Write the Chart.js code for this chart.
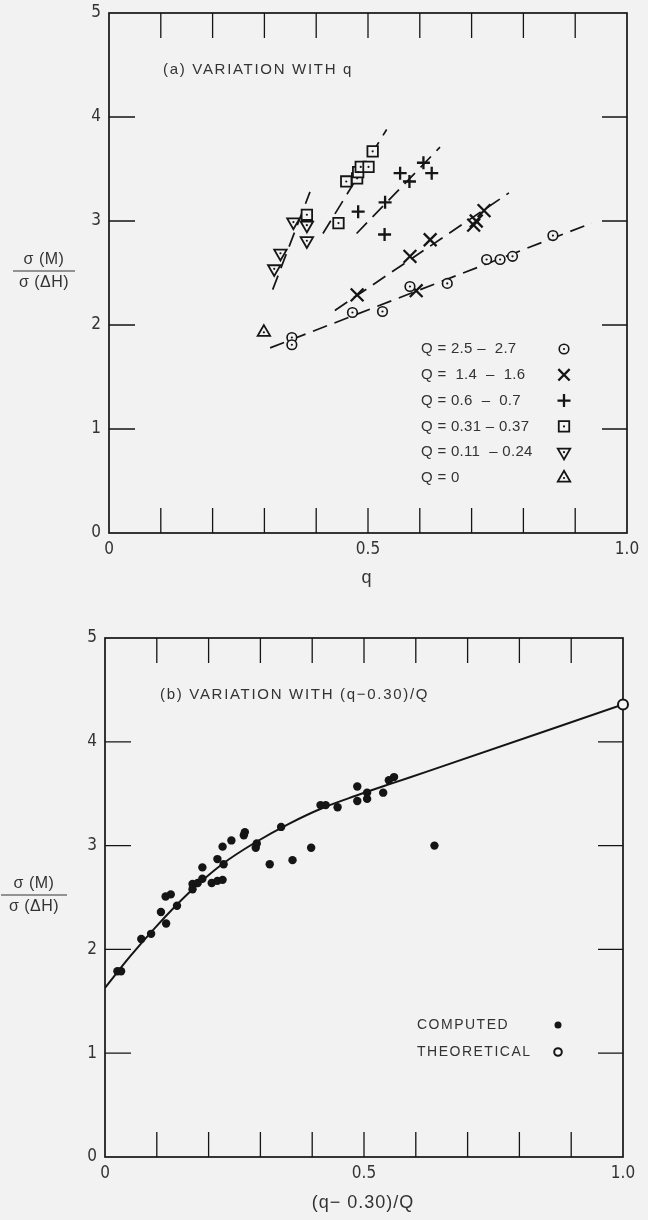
<!DOCTYPE html>
<html lang="en">
<head>
<meta charset="UTF-8">
<title>σ(M)/σ(ΔH) — variation with q and (q−0.30)/Q</title>
<script src="https://cdn.jsdelivr.net/npm/chart.js"></script>
<style>
  html, body { margin: 0; padding: 0; background: #f2f2f2; }
  body { width: 648px; height: 1220px; position: relative; overflow: hidden; }
  canvas { position: absolute; left: 0; }
  #panelA { top: 0; }
  #panelB { top: 610px; }
</style>
</head>
<body>
<canvas id="panelA" width="648" height="600"></canvas>
<canvas id="panelB" width="648" height="610"></canvas>

<script>
// ---- panel (a): sigma ratio against q, grouped by Q ----
const qQ25 = [0.353, 0.353, 0.470, 0.528, 0.581, 0.653, 0.729, 0.755, 0.779, 0.857];
const vQ25 = [1.88, 1.81, 2.12, 2.13, 2.37, 2.40, 2.63, 2.63, 2.66, 2.86];
const qQ15 = [0.479, 0.593, 0.581, 0.620, 0.704, 0.709, 0.724];
const vQ15 = [2.29, 2.33, 2.66, 2.82, 2.96, 3.00, 3.10];
const qQ06 = [0.481, 0.532, 0.533, 0.562, 0.580, 0.607, 0.623];
const vQ06 = [3.09, 2.87, 3.18, 3.46, 3.38, 3.56, 3.46];
const qQ03 = [0.382, 0.443, 0.458, 0.479, 0.481, 0.486, 0.501, 0.509];
const vQ03 = [3.06, 2.98, 3.38, 3.41, 3.47, 3.52, 3.52, 3.67];
const qQ01 = [0.319, 0.331, 0.356, 0.382, 0.382];
const vQ01 = [2.54, 2.69, 2.99, 2.96, 2.81];
const qQ0 = [0.299];
const vQ0 = [1.93];

// dashed fit lines, [start, end]
const fitQ25q = [0.311, 0.932], fitQ25v = [1.78, 2.98];
const fitQ15q = [0.436, 0.772], fitQ15v = [2.14, 3.27];
const fitQ06q = [0.478, 0.639], fitQ06v = [2.88, 3.71];
const fitQ03q = [0.413, 0.536], fitQ03v = [2.88, 3.88];
const fitQ01q = [0.316, 0.388], fitQ01v = [2.34, 3.28];

// ---- panel (b): sigma ratio against (q-0.30)/Q ----
const compX = [0.024, 0.031, 0.070, 0.089, 0.108, 0.118, 0.117, 0.127, 0.139, 0.169,
               0.169, 0.179, 0.188, 0.188, 0.206, 0.217, 0.227, 0.217, 0.229, 0.227,
               0.244, 0.268, 0.270, 0.291, 0.293, 0.318, 0.340, 0.362, 0.398, 0.416,
               0.426, 0.449, 0.487, 0.487, 0.506, 0.506, 0.537, 0.548, 0.558, 0.636];
const compY = [1.79, 1.79, 2.10, 2.15, 2.36, 2.25, 2.51, 2.53, 2.42, 2.58,
               2.63, 2.64, 2.68, 2.79, 2.64, 2.66, 2.67, 2.87, 2.82, 2.99,
               3.05, 3.10, 3.13, 2.98, 3.02, 2.82, 3.18, 2.86, 2.98, 3.39,
               3.39, 3.37, 3.57, 3.43, 3.51, 3.45, 3.51, 3.63, 3.66, 3.00];
const theoX = [1.0];
const theoY = [4.36];
const curveX = [0, 0.048, 0.097, 0.161, 0.226, 0.290, 0.355, 0.419, 0.484, 0.548, 0.620, 1.0];
const curveY = [1.63, 1.93, 2.21, 2.54, 2.82, 3.03, 3.21, 3.36, 3.48, 3.59, 3.71, 4.36];

// axis ticks
const yTicks = [0, 1, 2, 3, 4, 5];
const xLabelled = [0, 0.5, 1.0];
const xLabelText = ['0', '0.5', '1.0'];
const xMinor = [0.1, 0.2, 0.3, 0.4, 0.5, 0.6, 0.7, 0.8, 0.9];
const yMinor = [1, 2, 3, 4];

const legendA = ['Q = 2.5 –  2.7', 'Q =  1.4  –  1.6', 'Q = 0.6  –  0.7',
                 'Q = 0.31 – 0.37', 'Q = 0.11  – 0.24', 'Q = 0'];
const legendB = ['COMPUTED', 'THEORETICAL'];

const INK = '#151515';
const PAPER = '#f2f2f2';
const TEXT = '#333';
const NUM_FONT = '"Liberation Sans Narrow", "DejaVu Sans Condensed", sans-serif';
const TXT_FONT = '"Liberation Sans", Arial, sans-serif';

const pts = (xs, ys) => xs.map((x, i) => ({ x, y: ys[i] }));

// marker looks: outline shape, and whether it carries a centre dot
const M_CIRCLE = { pointStyle: 'circle', radius: 4.8, borderWidth: 1.6, fill: PAPER, dot: true };
const M_SQUARE = { pointStyle: 'rect', radius: 7.4, borderWidth: 1.8, fill: PAPER, dot: true };
const M_TRI_DN = { pointStyle: 'triangle', radius: 7.2, rotation: 180, borderWidth: 1.8, fill: PAPER, dot: true };
const M_TRI_UP = { pointStyle: 'triangle', radius: 7.2, rotation: 0, borderWidth: 1.8, fill: PAPER, dot: true };
const M_X = { pointStyle: 'crossRot', radius: 9, borderWidth: 2.3, fill: INK };
const M_PLUS = { pointStyle: 'cross', radius: 6.5, borderWidth: 2.3, fill: INK };

function fitLine(qs, vs) {
  return { data: pts(qs, vs), showLine: true, pointRadius: 0, borderColor: INK,
           borderWidth: 1.7, borderDash: [15, 8] };
}
// centre dots come first so they are painted over the outline
function marks(qs, vs, m) {
  const out = [];
  if (m.dot) {
    out.push({ data: pts(qs, vs), pointStyle: 'circle', pointRadius: 1.1,
               backgroundColor: INK, borderWidth: 0 });
  }
  out.push({ data: pts(qs, vs), pointStyle: m.pointStyle, pointRadius: m.radius,
             pointRotation: m.rotation || 0, borderColor: INK, backgroundColor: m.fill,
             borderWidth: m.borderWidth });
  return out;
}
function drawMark(ctx, m, x, y) {
  ctx.save();
  ctx.fillStyle = m.fill; ctx.strokeStyle = INK; ctx.lineWidth = m.borderWidth;
  Chart.helpers.drawPoint(ctx, m, x, y);
  if (m.dot) {
    ctx.fillStyle = INK;
    Chart.helpers.drawPoint(ctx, { pointStyle: 'circle', radius: 1.1, borderWidth: 0 }, x, y);
  }
  ctx.restore();
}

// frame with inward ticks, tick labels, titles and in-plot legend
const framePlugin = {
  id: 'frame',
  beforeDatasetsDraw(chart, args, o) {
    const { ctx, chartArea: a, scales: { x, y } } = chart;
    ctx.save();
    ctx.strokeStyle = INK;
    ctx.lineWidth = 1.3;
    ctx.beginPath();
    xMinor.forEach(v => {
      const px = x.getPixelForValue(v);
      ctx.moveTo(px, a.top); ctx.lineTo(px, a.top + 25);
      ctx.moveTo(px, a.bottom); ctx.lineTo(px, a.bottom - 25);
    });
    yMinor.forEach(v => {
      const py = y.getPixelForValue(v);
      ctx.moveTo(a.left, py); ctx.lineTo(a.left + 26, py);
      ctx.moveTo(a.right, py); ctx.lineTo(a.right - 25, py);
    });
    ctx.stroke();
    ctx.lineWidth = 1.7;
    ctx.strokeRect(a.left, a.top, a.right - a.left, a.bottom - a.top);

    // tick labels
    ctx.fillStyle = TEXT;
    ctx.font = '17px ' + NUM_FONT;
    ctx.textAlign = 'right'; ctx.textBaseline = 'middle';
    yTicks.forEach(v => ctx.fillText(String(v), a.left - 8, y.getPixelForValue(v)));
    ctx.textAlign = 'center'; ctx.textBaseline = 'top';
    xLabelled.forEach((v, i) => ctx.fillText(xLabelText[i], x.getPixelForValue(v), a.bottom + 8));
    ctx.restore();
  },
  afterDraw(chart, args, o) {
    const { ctx } = chart;
    ctx.save();
    ctx.fillStyle = TEXT;
    ctx.textBaseline = 'middle';

    // panel title inside the frame
    ctx.font = '15px ' + TXT_FONT;
    ctx.letterSpacing = '1.7px';
    ctx.textAlign = 'left';
    ctx.fillText(o.title, o.titleX, o.titleY);

    // legend rows: text left, symbol right
    ctx.font = o.legendFont + ' ' + TXT_FONT;
    ctx.letterSpacing = o.legendSpacing;
    o.legend.forEach((t, i) => {
      const yy = o.legendY + i * o.legendStep;
      ctx.fillStyle = TEXT;
      ctx.fillText(t, o.legendX, yy);
      drawMark(ctx, o.legendMarks[i], o.symbolX, yy);
    });

    // x axis title
    ctx.fillStyle = TEXT;
    ctx.letterSpacing = '1px';
    ctx.font = '18px ' + TXT_FONT;
    ctx.textAlign = 'center';
    ctx.fillText(o.xTitle, o.xTitleX, o.xTitleY);

    // y axis title as a fraction
    ctx.letterSpacing = '0.5px';
    ctx.font = '16px ' + TXT_FONT;
    ctx.fillText('σ (M)', o.fracX, o.fracY - 11);
    ctx.fillText('σ (ΔH)', o.fracX, o.fracY + 12);
    ctx.strokeStyle = TEXT; ctx.lineWidth = 1.2;
    ctx.beginPath();
    ctx.moveTo(o.fracX - o.fracW / 2, o.fracY); ctx.lineTo(o.fracX + o.fracW / 2, o.fracY);
    ctx.stroke();
    ctx.restore();
  }
};

function baseOptions(padding, frame) {
  return {
    responsive: false,
    animation: false,
    events: [],
    layout: { padding },
    scales: {
      x: { type: 'linear', min: 0, max: 1, display: false },
      y: { type: 'linear', min: 0, max: 5, display: false }
    },
    plugins: { legend: { display: false }, tooltip: { enabled: false }, frame }
  };
}

// earlier datasets end up on top, so the markers precede the dashed fits
new Chart(document.getElementById('panelA'), {
  type: 'scatter',
  data: {
    datasets: [
      ...marks(qQ25, vQ25, M_CIRCLE),
      ...marks(qQ15, vQ15, M_X),
      ...marks(qQ06, vQ06, M_PLUS),
      ...marks(qQ03, vQ03, M_SQUARE),
      ...marks(qQ01, vQ01, M_TRI_DN),
      ...marks(qQ0, vQ0, M_TRI_UP),
      fitLine(fitQ25q, fitQ25v),
      fitLine(fitQ15q, fitQ15v),
      fitLine(fitQ06q, fitQ06v),
      fitLine(fitQ03q, fitQ03v),
      fitLine(fitQ01q, fitQ01v)
    ]
  },
  options: baseOptions({ left: 109, right: 21, top: 13, bottom: 67 }, {
    title: '(a) VARIATION WITH q', titleX: 163, titleY: 70,
    legend: legendA, legendX: 421, legendY: 349, legendStep: 25.8,
    legendFont: '15px', legendSpacing: '0.3px',
    symbolX: 564,
    legendMarks: [M_CIRCLE, { ...M_X, radius: 8 }, M_PLUS, M_SQUARE, M_TRI_DN, M_TRI_UP],
    xTitle: 'q', xTitleX: 367, xTitleY: 578,
    fracX: 44, fracY: 271, fracW: 62
  }),
  plugins: [framePlugin]
});

new Chart(document.getElementById('panelB'), {
  type: 'scatter',
  data: {
    datasets: [
      { data: pts(theoX, theoY), pointStyle: 'circle', pointRadius: 5,
        backgroundColor: '#f7f7f7', borderColor: INK, borderWidth: 2, clip: false },
      { data: pts(compX, compY), pointStyle: 'circle', pointRadius: 4.2,
        backgroundColor: INK, borderColor: INK, borderWidth: 0 },
      { data: pts(curveX, curveY), showLine: true, pointRadius: 0, borderColor: INK,
        borderWidth: 2, cubicInterpolationMode: 'monotone' }
    ]
  },
  options: baseOptions({ left: 105, right: 25, top: 28, bottom: 63 }, {
    title: '(b) VARIATION WITH (q−0.30)/Q', titleX: 160, titleY: 85,
    legend: legendB, legendX: 417, legendY: 415, legendStep: 27,
    legendFont: '14px', legendSpacing: '1.5px',
    symbolX: 558,
    legendMarks: [
      { pointStyle: 'circle', radius: 3.5, borderWidth: 0, fill: INK },
      { pointStyle: 'circle', radius: 3.8, borderWidth: 2, fill: '#f7f7f7' }],
    xTitle: '(q− 0.30)/Q', xTitleX: 363, xTitleY: 593,
    fracX: 34, fracY: 285, fracW: 66
  }),
  plugins: [framePlugin]
});
</script>
</body>
</html>
